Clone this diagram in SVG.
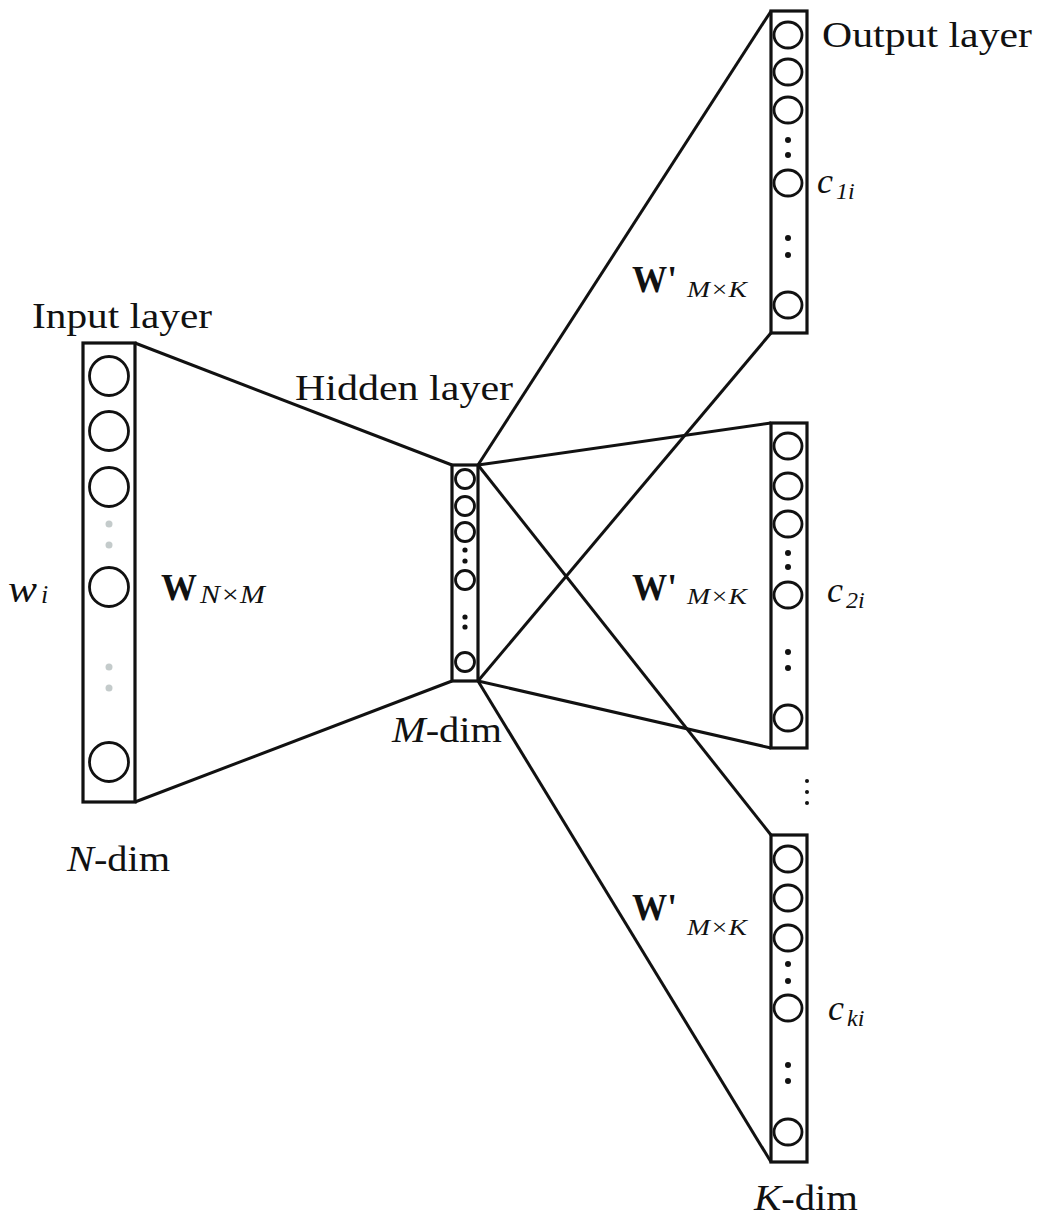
<svg xmlns="http://www.w3.org/2000/svg" width="1042" height="1218" viewBox="0 0 1042 1218" font-family="'Liberation Serif', 'Times New Roman', Times, serif">
<style>
.box{fill:none;stroke:#111;stroke-width:3.2}
.nd{fill:none;stroke:#111;stroke-width:2.8}
.ln{stroke:#111;stroke-width:3;fill:none}
.dot{fill:#111}
.gdot{fill:#c4cbcb}
text{font-family:'Liberation Serif','Times New Roman',Times,serif;fill:#111}
.it{font-style:italic}
.b{font-weight:bold}
</style>
<rect width="1042" height="1218" fill="#fff"/>
<g id="connectors">
<line class="ln" x1="135" y1="343" x2="452" y2="465"/>
<line class="ln" x1="135" y1="802" x2="452" y2="681"/>
<line class="ln" x1="478" y1="465" x2="771" y2="11"/>
<line class="ln" x1="478" y1="681" x2="771" y2="333"/>
<line class="ln" x1="478" y1="465" x2="771" y2="423"/>
<line class="ln" x1="478" y1="681" x2="771" y2="748"/>
<line class="ln" x1="478" y1="465" x2="771" y2="835"/>
<line class="ln" x1="478" y1="681" x2="771" y2="1162"/>
</g>
<g id="input-layer">
<rect class="box" x="83" y="343" width="52" height="459" fill="#fff"/>
<circle class="nd" cx="109" cy="376" r="19.5"/>
<circle class="nd" cx="109" cy="431" r="19.5"/>
<circle class="nd" cx="109" cy="487" r="19.5"/>
<circle class="gdot" cx="109" cy="524" r="3.5"/>
<circle class="gdot" cx="109" cy="545" r="3.5"/>
<circle class="nd" cx="109" cy="587" r="19.5"/>
<circle class="gdot" cx="109" cy="667" r="3.5"/>
<circle class="gdot" cx="109" cy="688" r="3.5"/>
<circle class="nd" cx="109" cy="762" r="19.5"/>
<text x="32" y="328" font-size="35" textLength="180" lengthAdjust="spacingAndGlyphs">Input layer</text>
<text class="it" x="8" y="602" font-size="38" textLength="29" lengthAdjust="spacingAndGlyphs">w</text>
<text class="it" x="41" y="603" font-size="26">i</text>
<text class="b" x="161" y="600" font-size="38" textLength="36" lengthAdjust="spacingAndGlyphs">W</text>
<text class="it" x="200" y="603" font-size="25" textLength="65" lengthAdjust="spacingAndGlyphs">N×M</text>
<text x="67" y="871" font-size="35" textLength="103" lengthAdjust="spacingAndGlyphs"><tspan class="it">N</tspan>-dim</text>
</g>
<g id="hidden-layer">
<rect class="box" x="452" y="465" width="26" height="216" fill="#fff"/>
<circle class="nd" cx="465" cy="479" r="9.5"/>
<circle class="nd" cx="465" cy="506" r="9.5"/>
<circle class="nd" cx="465" cy="532" r="9.5"/>
<circle class="dot" cx="465" cy="550" r="2.6"/>
<circle class="dot" cx="465" cy="561" r="2.6"/>
<circle class="nd" cx="465" cy="580" r="9.5"/>
<circle class="dot" cx="465" cy="617" r="2.6"/>
<circle class="dot" cx="465" cy="627" r="2.6"/>
<circle class="nd" cx="465" cy="662" r="9.5"/>
<text x="295" y="400" font-size="35" textLength="218" lengthAdjust="spacingAndGlyphs">Hidden layer</text>
<text x="392" y="742" font-size="35" textLength="110" lengthAdjust="spacingAndGlyphs"><tspan class="it">M</tspan>-dim</text>
</g>
<g id="output-layer-1">
<rect class="box" x="771" y="11" width="36" height="322" fill="#fff"/>
<ellipse class="nd" cx="788" cy="35" rx="14" ry="13"/>
<ellipse class="nd" cx="788" cy="72" rx="14" ry="13"/>
<ellipse class="nd" cx="788" cy="110" rx="14" ry="13"/>
<circle class="dot" cx="788" cy="140" r="3"/>
<circle class="dot" cx="788" cy="155" r="3"/>
<ellipse class="nd" cx="788" cy="183" rx="14" ry="13"/>
<circle class="dot" cx="788" cy="238" r="3"/>
<circle class="dot" cx="788" cy="255" r="3"/>
<ellipse class="nd" cx="788" cy="305" rx="14" ry="13"/>
<text x="822" y="47" font-size="35" textLength="210" lengthAdjust="spacingAndGlyphs">Output layer</text>
<text class="it" x="817" y="193" font-size="36">c<tspan font-size="24" dx="3" dy="6">1i</tspan></text>
<text class="b" x="632" y="292" font-size="38" textLength="45" lengthAdjust="spacingAndGlyphs">W'</text>
<text class="it" x="687" y="297" font-size="24" textLength="60" lengthAdjust="spacingAndGlyphs">M×K</text>
</g>
<g id="output-layer-2">
<rect class="box" x="771" y="423" width="36" height="325" fill="#fff"/>
<ellipse class="nd" cx="788" cy="446" rx="14" ry="13"/>
<ellipse class="nd" cx="788" cy="486" rx="14" ry="13"/>
<ellipse class="nd" cx="788" cy="524" rx="14" ry="13"/>
<circle class="dot" cx="788" cy="553" r="3"/>
<circle class="dot" cx="788" cy="567" r="3"/>
<ellipse class="nd" cx="788" cy="595" rx="14" ry="13"/>
<circle class="dot" cx="788" cy="652" r="3"/>
<circle class="dot" cx="788" cy="668" r="3"/>
<ellipse class="nd" cx="788" cy="718" rx="14" ry="13"/>
<text class="it" x="827" y="602" font-size="36">c<tspan font-size="24" dx="3" dy="6">2i</tspan></text>
<text class="b" x="632" y="600" font-size="38" textLength="45" lengthAdjust="spacingAndGlyphs">W'</text>
<text class="it" x="687" y="604" font-size="24" textLength="60" lengthAdjust="spacingAndGlyphs">M×K</text>
</g>
<g id="ellipsis">
<circle class="dot" cx="807" cy="781" r="2"/>
<circle class="dot" cx="807" cy="792" r="2"/>
<circle class="dot" cx="807" cy="803" r="2"/>
</g>
<g id="output-layer-k">
<rect class="box" x="771" y="835" width="36" height="327" fill="#fff"/>
<ellipse class="nd" cx="788" cy="859" rx="14" ry="13"/>
<ellipse class="nd" cx="788" cy="898" rx="14" ry="13"/>
<ellipse class="nd" cx="788" cy="938" rx="14" ry="13"/>
<circle class="dot" cx="788" cy="964" r="3"/>
<circle class="dot" cx="788" cy="981" r="3"/>
<ellipse class="nd" cx="788" cy="1008" rx="14" ry="13"/>
<circle class="dot" cx="788" cy="1065" r="3"/>
<circle class="dot" cx="788" cy="1081" r="3"/>
<ellipse class="nd" cx="788" cy="1132" rx="14" ry="13"/>
<text class="it" x="828" y="1020" font-size="36">c<tspan font-size="24" dx="3" dy="6">ki</tspan></text>
<text class="b" x="632" y="920" font-size="38" textLength="45" lengthAdjust="spacingAndGlyphs">W'</text>
<text class="it" x="687" y="935" font-size="24" textLength="60" lengthAdjust="spacingAndGlyphs">M×K</text>
<text x="754" y="1210" font-size="35" textLength="104" lengthAdjust="spacingAndGlyphs"><tspan class="it">K</tspan>-dim</text>
</g>
</svg>
